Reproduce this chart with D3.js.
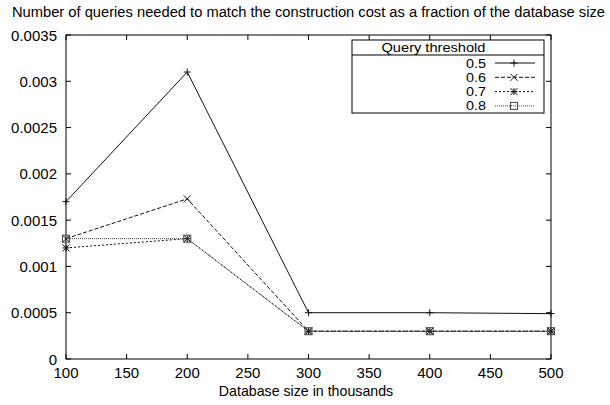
<!DOCTYPE html>
<html><head><meta charset="utf-8">
<script src="https://cdn.jsdelivr.net/npm/d3@7"></script>
<style>body{margin:0;background:#fff}text{font-family:"Liberation Sans",Arial,sans-serif;fill:#000}</style>
</head><body><svg id="c" width="610" height="405"></svg>
<script>
const sizes = [100, 200, 300, 400, 500];
const thresholds = ["0.5", "0.6", "0.7", "0.8"];
const s05 = [0.0017, 0.0031, 0.0005, 0.0005, 0.00049];
const s06 = [0.0013, 0.00173, 0.0003, 0.0003, 0.0003];
const s07 = [0.0012, 0.0013, 0.0003, 0.0003, 0.0003];
const s08 = [0.0013, 0.0013, 0.0003, 0.0003, 0.0003];
const xTicks = [100, 150, 200, 250, 300, 350, 400, 450, 500];
const yTicks = [0, 0.0005, 0.001, 0.0015, 0.002, 0.0025, 0.003, 0.0035];
const yLabels = ["0", "0.0005", "0.001", "0.0015", "0.002", "0.0025", "0.003", "0.0035"];
const titleText = "Number of queries needed to match the construction cost as a fraction of the database size";
const xTitle = "Database size in thousands";
const legendTitle = "Query threshold";

const series = [s05, s06, s07, s08];
const styles = [
  {dash: null, marker: "plus", color: "#111"},
  {dash: "4,2", marker: "cross", color: "#111"},
  {dash: "2,2", marker: "star", color: "#111"},
  {dash: "1,1", marker: "square", color: "#444"}
];

const svg = d3.select("#c");
const L = 66, R = 551, T = 35, B = 359;
const x = d3.scaleLinear().domain([100, 500]).range([L, R]);
const y = d3.scaleLinear().domain([0, 0.0035]).range([B, T]);

svg.append("text").attr("x", 12).attr("y", 17).attr("font-size", 14)
  .attr("textLength", 593).attr("lengthAdjust", "spacingAndGlyphs").text(titleText);

// frame
svg.append("rect").attr("x", L).attr("y", T).attr("width", R - L).attr("height", B - T)
  .attr("fill", "none").attr("stroke", "#000").attr("stroke-width", 1);

const tl = 5;
const xa = svg.append("g");
xTicks.forEach(t => {
  xa.append("line").attr("x1", x(t)).attr("x2", x(t)).attr("y1", B).attr("y2", B - tl).attr("stroke", "#000");
  xa.append("line").attr("x1", x(t)).attr("x2", x(t)).attr("y1", T).attr("y2", T + tl).attr("stroke", "#000");
  xa.append("text").attr("x", x(t)).attr("y", 378).attr("text-anchor", "middle").attr("font-size", 15).text(t);
});
yTicks.forEach((t, i) => {
  xa.append("line").attr("x1", L).attr("x2", L + tl).attr("y1", y(t)).attr("y2", y(t)).attr("stroke", "#000");
  xa.append("line").attr("x1", R).attr("x2", R - tl).attr("y1", y(t)).attr("y2", y(t)).attr("stroke", "#000");
  xa.append("text").attr("x", 57).attr("y", y(t) + 5.5).attr("text-anchor", "end").attr("font-size", 15).text(yLabels[i]);
});
svg.append("text").attr("x", 306).attr("y", 396).attr("text-anchor", "middle").attr("font-size", 14.2).text(xTitle);

function marker(g, type, cx, cy, color) {
  const s = 3.5;
  if (type === "plus") {
    g.append("path").attr("d", `M${cx - s},${cy}H${cx + s}M${cx},${cy - s}V${cy + s}`).attr("stroke", color).attr("fill", "none");
  } else if (type === "cross") {
    g.append("path").attr("d", `M${cx - s},${cy - s}L${cx + s},${cy + s}M${cx - s},${cy + s}L${cx + s},${cy - s}`).attr("stroke", color).attr("fill", "none");
  } else if (type === "star") {
    g.append("path").attr("d", `M${cx - s},${cy}H${cx + s}M${cx},${cy - s}V${cy + s}M${cx - s},${cy - s}L${cx + s},${cy + s}M${cx - s},${cy + s}L${cx + s},${cy - s}`).attr("stroke", color).attr("fill", "none");
  } else {
    g.append("rect").attr("x", cx - s).attr("y", cy - s).attr("width", 2 * s).attr("height", 2 * s).attr("stroke", color).attr("fill", "none");
  }
}

const line = d3.line().x((d, i) => x(sizes[i])).y(d => y(d));
series.forEach((s, k) => {
  const g = svg.append("g");
  g.append("path").attr("d", line(s)).attr("fill", "none").attr("stroke", styles[k].color)
    .attr("stroke-width", 1).attr("stroke-dasharray", styles[k].dash);
  s.forEach((v, i) => marker(g, styles[k].marker, x(sizes[i]), y(v), styles[k].color));
});

// legend
const lg = svg.append("g");
lg.append("rect").attr("x", 352).attr("y", 40).attr("width", 192).attr("height", 73).attr("fill", "#fff").attr("stroke", "#000");
lg.append("line").attr("x1", 352).attr("x2", 544).attr("y1", 55).attr("y2", 55).attr("stroke", "#000");
lg.append("text").attr("x", 433.5).attr("y", 52).attr("text-anchor", "middle").attr("font-size", 13)
  .attr("textLength", 104).attr("lengthAdjust", "spacingAndGlyphs").text(legendTitle);
thresholds.forEach((t, k) => {
  const yy = 63 + k * 14.3;
  lg.append("text").attr("x", 486).attr("y", yy + 4.5).attr("text-anchor", "end").attr("font-size", 12.3)
    .attr("textLength", 20).attr("lengthAdjust", "spacingAndGlyphs").text(t);
  lg.append("line").attr("x1", 495).attr("x2", 535).attr("y1", yy).attr("y2", yy).attr("stroke", styles[k].color).attr("stroke-dasharray", styles[k].dash);
  marker(lg, styles[k].marker, 514, yy, styles[k].color);
});
</script></body></html>
